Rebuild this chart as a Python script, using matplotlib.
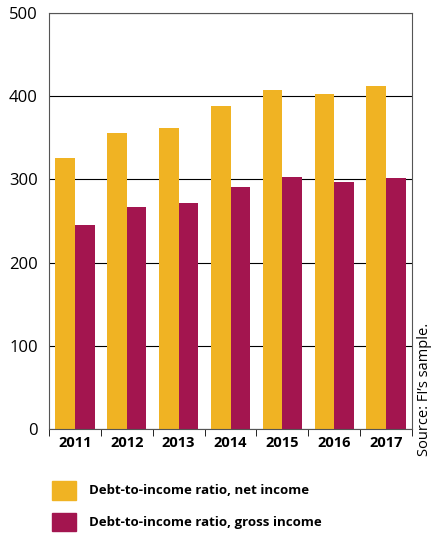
import matplotlib
matplotlib.use("Agg")
import matplotlib.pyplot as plt
from matplotlib.patches import Patch
import numpy as np

years = ["2011","2012","2013","2014","2015","2016","2017"]
net = [326, 356, 362, 388, 407, 403, 412]
gross = [245, 267, 272, 291, 303, 297, 302]

plt.rcParams['font.family'] = ['Open Sans', 'DejaVu Sans']
fig = plt.figure(figsize=(4.34, 5.33), dpi=100)
ax = fig.add_axes([49/434, 1-429/533, 363/434, 416/533])
x = np.arange(len(years))
w = 0.38
ax.bar(x - w/2, net, w, color="#F0B323", zorder=2)
ax.bar(x + w/2, gross, w, color="#A3154F", zorder=2)
ax.set_ylim(0, 500)
ax.set_xlim(-0.5, len(years)-0.5)
ax.set_yticks([0,100,200,300,400,500])
ax.yaxis.grid(True, color="black", linewidth=0.8, zorder=1)
ax.set_xticks(x)
ax.set_xticklabels(years, fontsize=10.5, fontweight="bold")
ax.set_xticks(np.arange(-0.5, len(years)), minor=True)
ax.tick_params(axis="x", which="major", length=0, pad=5)
ax.tick_params(axis="x", which="minor", length=5, direction="out")
ax.tick_params(axis="y", length=0, labelsize=12, pad=8)
for s in ax.spines.values():
    s.set_color("#555555")
fig.text(0.995, 1-456/533, "Source: FI’s sample.", rotation=90, ha="right", va="bottom", fontsize=10.5)
handles = [Patch(color="#F0B323"), Patch(color="#A3154F")]
fig.legend(handles, ["Debt-to-income ratio, net income", "Debt-to-income ratio, gross income"],
           loc="upper left", bbox_to_anchor=(40/434, 1-469/533), frameon=False,
           prop={"size": 9.5, "weight": "bold"}, handlelength=1.8, handleheight=1.8,
           labelspacing=1.0, handletextpad=1.0)
fig.savefig("out.png", dpi=100)
